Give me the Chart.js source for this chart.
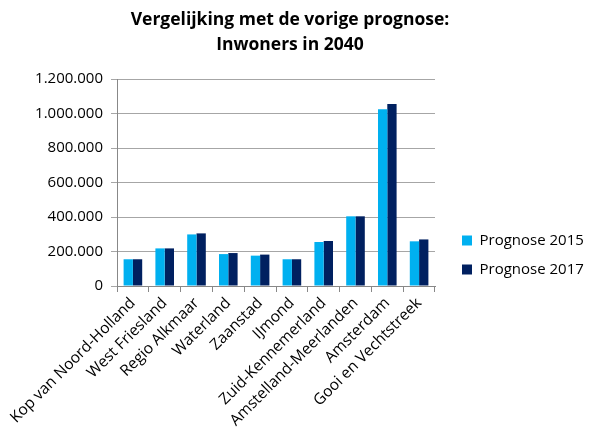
<!DOCTYPE html>
<html lang="nl">
<head>
    <meta charset="utf-8">
    <title>Vergelijking met de vorige prognose</title>
    <script src="https://cdn.jsdelivr.net/npm/chart.js"></script>
    <style>
        html, body { margin: 0; padding: 0; background: #fff; }
        #wrap { width: 590px; height: 433px; }
    </style>
</head>
<body>
<div id="wrap"><canvas id="chart"></canvas></div>
<script>
    // Regio's en inwoners in 2040
    const regios = ['Kop van Noord-Holland', 'West Friesland', 'Regio Alkmaar', 'Waterland', 'Zaanstad',
        'IJmond', 'Zuid-Kennemerland', 'Amstelland-Meerlanden', 'Amsterdam', 'Gooi en Vechtstreek'];
    const prognose2015 = [155000, 218000, 299000, 185000, 176000, 155000, 255000, 404000, 1024000, 259000];
    const prognose2017 = [155000, 218000, 305000, 191000, 182000, 155000, 261000, 404000, 1055000, 270000];
    const yTicks = [0, 200000, 400000, 600000, 800000, 1000000, 1200000];

    const font = "'Open Sans', 'Liberation Sans', sans-serif";

    function metPunten(v) {
        return String(v).replace(/\B(?=(\d{3})+(?!\d))/g, '.');
    }

    // legenda iets naar rechts/onder schuiven, zoals in het origineel
    const legendShift = {
        id: 'legendShift',
        afterLayout(chart) {
            const lg = chart.legend;
            lg.left += 13; lg.right += 13;
            lg.top += 5; lg.bottom += 5;
        }
    };

    new Chart(document.getElementById('chart'), {
        type: 'bar',
        data: {
            labels: regios,
            datasets: [
                { label: 'Prognose 2015', data: prognose2015, backgroundColor: '#00b0f0' },
                { label: 'Prognose 2017', data: prognose2017, backgroundColor: '#002060' }
            ]
        },
        options: {
            responsive: true,
            maintainAspectRatio: false,
            animation: false,
            categoryPercentage: 0.585,
            barPercentage: 1,
            layout: { padding: { left: 0, right: 10, top: 8, bottom: 0 } },
            plugins: {
                title: {
                    display: true,
                    text: ['Vergelijking met de vorige prognose:', 'Inwoners in 2040'],
                    color: '#000',
                    font: { family: font, size: 17.5, weight: 'bold', lineHeight: 1.4 },
                    padding: { top: 0, bottom: 22 }
                },
                legend: {
                    position: 'right',
                    align: 'end',
                    fullSize: false,
                    labels: {
                        color: '#000',
                        font: { family: font, size: 15 },
                        boxWidth: 10,
                        boxHeight: 10,
                        padding: 14
                    }
                },
                tooltip: { enabled: false }
            },
            scales: {
                x: {
                    afterFit: s => { s.height = 147; },
                    grid: { drawOnChartArea: false, color: '#888', tickLength: 6 },
                    border: { color: '#888' },
                    ticks: {
                        color: '#000',
                        font: { family: font, size: 15.5 },
                        autoSkip: false,
                        minRotation: 45,
                        maxRotation: 45,
                        padding: 2
                    }
                },
                y: {
                    min: 0,
                    max: 1200000,
                    afterFit: s => { s.width = 117; },
                    afterBuildTicks: axis => { axis.ticks = yTicks.map(v => ({ value: v })); },
                    grid: { color: '#a6a6a6', tickLength: 6 },
                    border: { color: '#888' },
                    ticks: {
                        color: '#000',
                        font: { family: font, size: 15 },
                        padding: 8,
                        callback: v => metPunten(v)
                    }
                }
            }
        },
        plugins: [legendShift]
    });
</script>
</body>
</html>
